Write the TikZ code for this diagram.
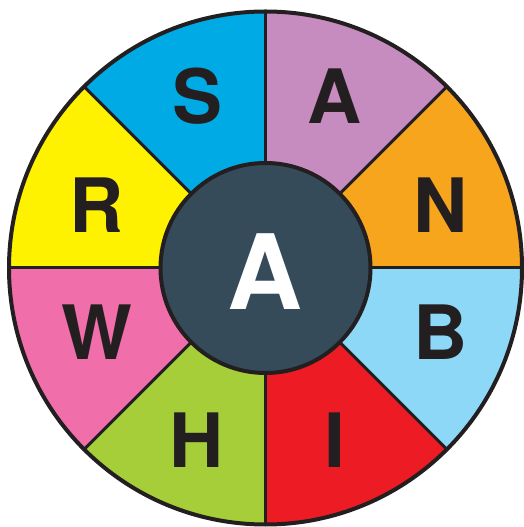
\documentclass[tikz,border=0pt]{standalone}
\usepackage{fontspec}
\setmainfont{TeX Gyre Heros}
\definecolor{cS}{HTML}{00AAE4}
\definecolor{cA}{HTML}{C68BBF}
\definecolor{cN}{HTML}{F7A51D}
\definecolor{cB}{HTML}{8DD8F7}
\definecolor{cI}{HTML}{ED1C24}
\definecolor{cH}{HTML}{A6CE39}
\definecolor{cW}{HTML}{F06EAA}
\definecolor{cR}{HTML}{FFF200}
\definecolor{cC}{HTML}{354B5A}
\definecolor{ink}{HTML}{231F20}
\tikzset{
  wedge/.style={draw=ink, line width=3pt, line join=round},
  lett/.style={font=\fontsize{75}{75}\selectfont\bfseries, text=ink, inner sep=0pt, anchor=center},
}
\begin{document}
\begin{tikzpicture}[x=1pt,y=1pt]
\useasboundingbox (0,0) rectangle (524,527);
\coordinate (O) at (265.5,259);
\def\R{256.5}
\foreach \a/\c in {90/cA,135/cS,180/cR,225/cW,270/cH,315/cI,360/cB,45/cN}{
  \fill[\c] (O) -- ++(\a-45:\R) arc[start angle=\a-45, end angle=\a, radius=\R] -- cycle;
}
\foreach \a in {0,45,...,315}{
  \draw[draw=ink, line width=3pt] (O) -- ++(\a:\R);
}
\draw[draw=ink, line width=4pt] (O) circle[radius=\R];
\node[circle, fill=cC, draw=ink, line width=4pt, minimum size=210pt, inner sep=0pt] (center) at (O) {};
\node[font=\fontsize{104}{104}\selectfont\bfseries, text=white, inner sep=0pt] (cA) at ([yshift=-4pt]O) {A};
\node[lett] (s) at (197.5,431) {S};
\node[lett] (a) at (335,431) {A};
\node[lett] (n) at (441,322) {N};
\node[lett] (b) at (441,195) {B};
\node[lett] (i) at (335,87) {I};
\node[lett] (h) at (197,87) {H};
\node[lett] (w) at (97,195) {W};
\node[lett] (r) at (97,322) {R};
\end{tikzpicture}
\end{document}
